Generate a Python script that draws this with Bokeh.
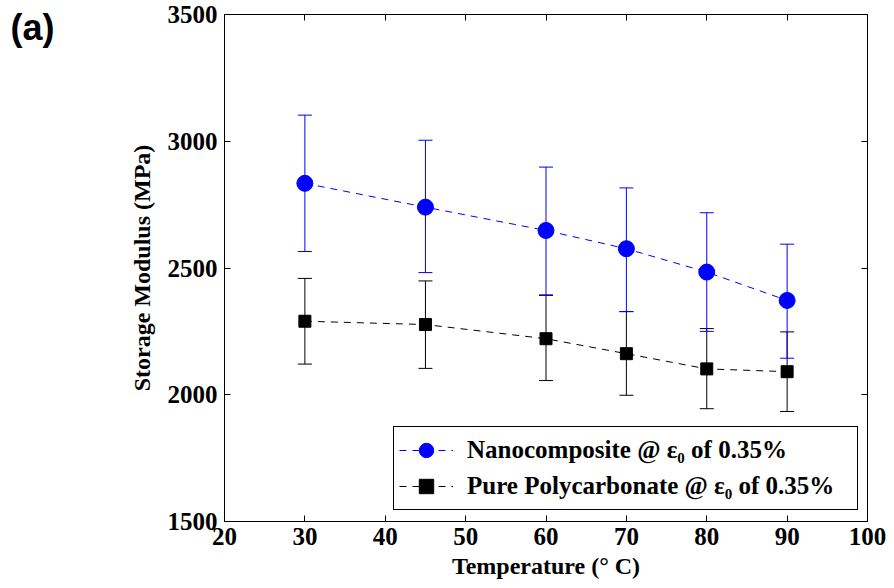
from bokeh.plotting import figure
from bokeh.models import (Range1d, LinearAxis, FixedTicker, Whisker, TeeHead,
                          ColumnDataSource, Legend, LegendItem, Label)
from bokeh.embed import file_html
from bokeh.resources import INLINE

# ---- data ----
temperature = [30, 45, 60, 70, 80, 90]
nano_mean = [2834, 2740, 2648, 2576, 2484, 2372]
nano_upper = [3103, 3004, 2898, 2816, 2718, 2594]
nano_lower = [2565, 2482, 2394, 2328, 2250, 2144]
pc_mean = [2290, 2277, 2221, 2162, 2102, 2091]
pc_upper = [2459, 2449, 2392, 2328, 2261, 2248]
pc_lower = [2121, 2104, 2056, 1998, 1945, 1934]
x_ticks = [20, 30, 40, 50, 60, 70, 80, 90, 100]
y_ticks = [1500, 2000, 2500, 3000, 3500]
nano_label = "Nanocomposite @ \u03b5\u2080 of 0.35%"
pc_label = "Pure Polycarbonate @ \u03b5\u2080 of 0.35%"

BLUE = "#0000FF"
BLACK = "#000000"
SERIF = "Liberation Serif"

FRAME_L, FRAME_R, FRAME_T, FRAME_B = 224, 27, 14, 67

p = figure(width=894, height=588, output_backend="svg", toolbar_location=None,
           x_range=Range1d(20, 100), y_range=Range1d(1500, 3500),
           x_axis_location=None, y_axis_location=None,
           min_border_left=FRAME_L, min_border_right=FRAME_R,
           min_border_top=FRAME_T, min_border_bottom=FRAME_B)
p.grid.visible = False
p.outline_line_color = BLACK
p.outline_line_width = 1
p.background_fill_color = "white"
p.border_fill_color = "white"


def style_axis(ax, ticks, labels=True):
    ax.ticker = FixedTicker(ticks=ticks)
    ax.major_tick_in = 6
    ax.major_tick_out = 0
    ax.minor_tick_line_color = None
    ax.axis_line_color = BLACK
    ax.major_tick_line_color = BLACK
    ax.major_label_text_font = SERIF
    ax.major_label_text_font_style = "bold"
    ax.major_label_text_color = BLACK
    ax.major_label_text_font_size = "25px"
    if not labels:
        ax.major_label_overrides = {t: "" for t in ticks}
        ax.major_label_standoff = 0


xb = LinearAxis(axis_label="Temperature (\u00b0 C)")
style_axis(xb, x_ticks)
xb.major_label_standoff = 6
xb.axis_label_standoff = 5
xb.axis_label_text_font = SERIF
xb.axis_label_text_font_style = "bold"
xb.axis_label_text_font_size = "24px"
xb.axis_label_text_color = BLACK
p.add_layout(xb, "below")

yl = LinearAxis(axis_label="Storage Modulus (MPa)")
style_axis(yl, y_ticks)
yl.major_label_standoff = 7
yl.axis_label_standoff = 10
yl.axis_label_text_font = SERIF
yl.axis_label_text_font_style = "bold"
yl.axis_label_text_font_size = "24px"
yl.axis_label_text_color = BLACK
p.add_layout(yl, "left")

xt = LinearAxis()
style_axis(xt, x_ticks, labels=False)
p.add_layout(xt, "above")

yr = LinearAxis()
style_axis(yr, y_ticks, labels=False)
p.add_layout(yr, "right")

src_n = ColumnDataSource(dict(x=temperature, y=nano_mean, up=nano_upper, lo=nano_lower))
src_p = ColumnDataSource(dict(x=temperature, y=pc_mean, up=pc_upper, lo=pc_lower))

# error bars
for src, col in ((src_p, BLACK), (src_n, BLUE)):
    w = Whisker(source=src, base="x", upper="up", lower="lo", dimension="height",
                line_color=col, line_width=1,
                upper_head=TeeHead(size=14, line_color=col, line_width=1),
                lower_head=TeeHead(size=14, line_color=col, line_width=1))
    p.add_layout(w)

ln_p = p.line("x", "y", source=src_p, line_color=BLACK, line_dash="7 6", line_width=1)
mk_p = p.scatter("x", "y", source=src_p, marker="square", size=12,
                 fill_color=BLACK, line_color=BLACK)
ln_n = p.line("x", "y", source=src_n, line_color=BLUE, line_dash="7 6", line_width=1)
mk_n = p.scatter("x", "y", source=src_n, marker="circle", size=16,
                 fill_color=BLUE, line_color=BLUE)

legend = Legend(items=[LegendItem(label=nano_label, renderers=[ln_n, mk_n]),
                       LegendItem(label=pc_label, renderers=[ln_p, mk_p])],
                location=(169, 11), orientation="vertical",
                label_text_font=SERIF, label_text_font_style="bold",
                label_text_font_size="25px", label_text_color=BLACK,
                glyph_width=54, glyph_height=36, label_height=36,
                label_width=385, label_standoff=14, padding=5, spacing=0,
                margin=0, border_line_color=BLACK, border_line_width=1,
                border_line_alpha=1.0,
                background_fill_color="white", background_fill_alpha=1)
p.add_layout(legend, "center")

# panel tag "(a)" placed in the left side panel (not clipped to the frame)
frame_h = 588 - FRAME_T - FRAME_B
p.add_layout(Label(x=-71, y=frame_h + 8,
                   x_units="screen", y_units="screen",
                   text="(a)", text_font="Liberation Sans",
                   text_font_style="bold", text_font_size="36px",
                   text_color=BLACK, text_baseline="top", text_align="left"),
             "left")

open("out.html", "w").write(file_html(p, INLINE))
